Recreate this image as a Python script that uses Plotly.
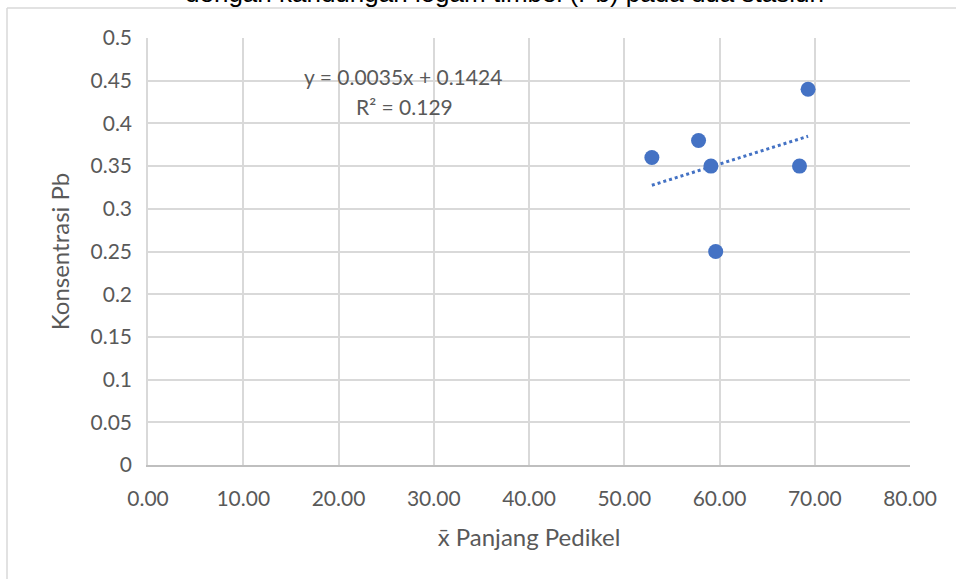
import plotly.graph_objects as go

# Mean pedicel length vs. Pb concentration
panjang = [52.9, 57.8, 59.1, 59.6, 68.4, 69.3]
pb = [0.36, 0.38, 0.35, 0.25, 0.35, 0.44]

# Linear trendline coefficients (as reported in the equation label)
slope = 0.0035
intercept = 0.1424
r_squared = 0.129

x_ticks = [0, 10, 20, 30, 40, 50, 60, 70, 80]
y_ticks = [0, 0.05, 0.1, 0.15, 0.2, 0.25, 0.3, 0.35, 0.4, 0.45, 0.5]
y_ticktext = ["0", "0.05", "0.1", "0.15", "0.2", "0.25", "0.3", "0.35", "0.4", "0.45", "0.5"]

title_text = "dengan kandungan logam timbel (Pb) pada dua stasiun"
x_title = "x̄ Panjang Pedikel"
y_title = "Konsentrasi Pb"

W, H = 956, 579
L, R, T, B = 148, 46, 38, 114
pw, ph = W - L - R, H - T - B

def px(xp):
    return (xp - L) / pw

def py(yp):
    return (H - B - yp) / ph

BLUE = "#4472C4"
TXT = "#595959"
FONT = "Lato"

trend_x = [min(panjang), max(panjang)]
trend_y = [slope * v + intercept for v in trend_x]

fig = go.Figure()
fig.add_trace(go.Scatter(
    x=trend_x, y=trend_y, mode="lines",
    line=dict(color=BLUE, width=3, dash="dot"),
    hoverinfo="skip", showlegend=False,
))
fig.add_trace(go.Scatter(
    x=panjang, y=pb, mode="markers",
    marker=dict(color=BLUE, size=15),
    showlegend=False,
))

fig.update_layout(
    width=W, height=H,
    margin=dict(l=L, r=R, t=T, b=B),
    paper_bgcolor="white", plot_bgcolor="white",
    font=dict(family=FONT, color=TXT, size=21),
    xaxis=dict(
        range=[0, 80], tickvals=x_ticks, tickformat=".2f",
        showgrid=True, gridcolor="#d9d9d9", gridwidth=1.5,
        showline=True, linecolor="#bfbfbf", linewidth=1.5,
        zeroline=False, ticks="", ticklabelstandoff=14,
        tickfont=dict(family=FONT, size=21, color=TXT),
        title=dict(text=x_title, font=dict(family=FONT, size=24, color=TXT), standoff=20),
    ),
    yaxis=dict(
        range=[0, 0.5], tickvals=y_ticks, ticktext=y_ticktext,
        showgrid=True, gridcolor="#d9d9d9", gridwidth=1.5,
        showline=True, linecolor="#d9d9d9", linewidth=1.5,
        zeroline=False, ticks="", ticklabelstandoff=10,
        tickfont=dict(family=FONT, size=21, color=TXT),
        title=dict(text=y_title, font=dict(family=FONT, size=24, color=TXT), standoff=14),
    ),
    shapes=[
        dict(type="line", xref="paper", yref="paper",
             x0=px(7), x1=px(W + 5), y0=py(8), y1=py(8),
             line=dict(color="#d9d9d9", width=1.5)),
        dict(type="line", xref="paper", yref="paper",
             x0=px(7), x1=px(7), y0=py(8), y1=py(H + 5),
             line=dict(color="#d9d9d9", width=1.5)),
    ],
    annotations=[
        dict(text=title_text, xref="paper", yref="paper",
             x=px(504), y=py(10), xanchor="center", yanchor="bottom",
             showarrow=False, font=dict(family="Liberation Sans", size=26, color="#000000")),
        dict(text=f"y = {slope}x + {intercept}", xref="paper", yref="paper",
             x=px(403), y=py(76), xanchor="center", yanchor="middle",
             showarrow=False, font=dict(family=FONT, size=21, color=TXT)),
        dict(text=f"R² = {r_squared}", xref="paper", yref="paper",
             x=px(404), y=py(107), xanchor="center", yanchor="middle",
             showarrow=False, font=dict(family=FONT, size=21, color=TXT)),
    ],
)

fig.write_html("out.html")
